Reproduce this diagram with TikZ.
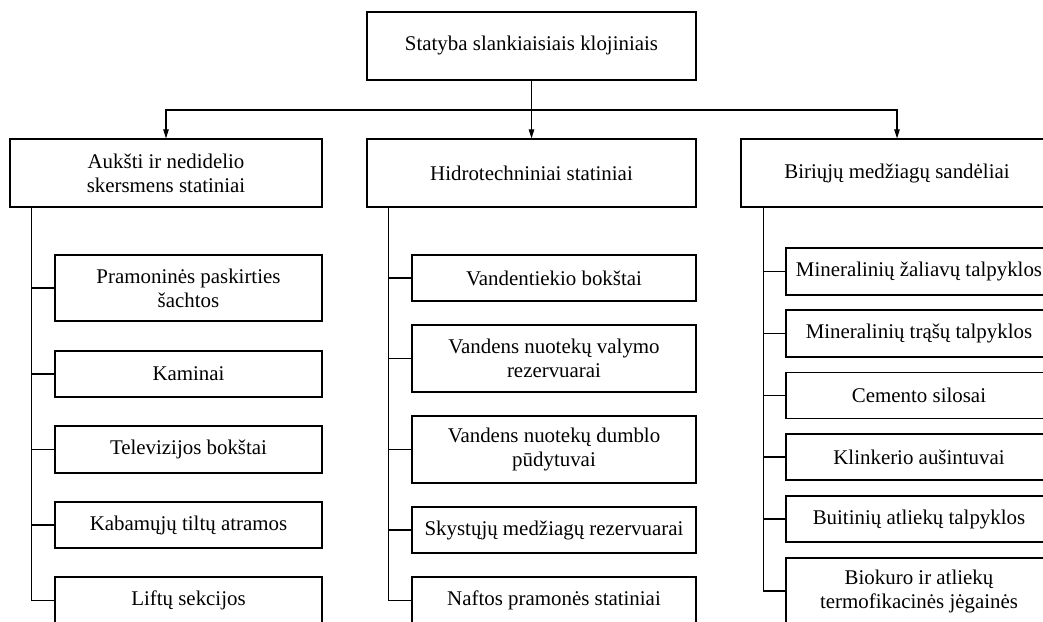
\documentclass[tikz,border=0pt]{standalone}
\usepackage{fontspec}
\setmainfont{Liberation Serif}
\usetikzlibrary{arrows.meta}
\begin{document}
\begin{tikzpicture}[x=1pt,y=-1pt,
  box/.style={draw,line width=1.2pt,inner sep=0pt,align=center,font=\fontsize{20.9}{24}\selectfont},
  arr/.style={line width=1.1pt,-{Triangle[length=9pt,width=5.5pt]}},
  link/.style={line width=1.1pt}]
\useasboundingbox (0,0) rectangle (1043,621);
\clip (0,0) rectangle (1043,621);
\node[box,minimum width=329pt,minimum height=68pt] (top) at (531.5,46) {Statyba slankiaisiais klojiniais};
\node[box,minimum width=312pt,minimum height=68pt] (a) at (166,173) {Aukšti ir nedidelio\\skersmens statiniai};
\node[box,minimum width=329pt,minimum height=68pt] (b) at (531.5,173) {Hidrotechniniai statiniai};
\node[box,minimum width=312pt,minimum height=68pt] (c) at (897,173) {Biriųjų medžiagų sandėliai};
\coordinate (j) at (531.5,110);
\draw[arr] (top.south) -- (b.north);
\draw[arr] (j) -| (a.north);
\draw[arr] (j) -| (c.north);
% column 1
\begin{scope}[every node/.style={box,minimum width=267pt}]
\node[minimum height=66pt] (a1) at (188.5,288) {Pramoninės paskirties\\šachtos};
\node[minimum height=46pt] (a2) at (188.5,374) {Kaminai};
\node[minimum height=47pt] (a3) at (188.5,449.5) {Televizijos bokštai};
\node[minimum height=46pt] (a4) at (188.5,525) {Kabamųjų tiltų atramos};
\node[minimum height=47pt] (a5) at (188.5,600.5) {Liftų sekcijos};
\end{scope}
% column 2
\begin{scope}[every node/.style={box,minimum width=284pt}]
\node[minimum height=46pt] (b1) at (554,278) {Vandentiekio bokštai};
\node[minimum height=67pt] (b2) at (554,358.5) {Vandens nuotekų valymo\\rezervuarai};
\node[minimum height=67pt] (b3) at (554,449.5) {Vandens nuotekų dumblo\\pūdytuvai};
\node[minimum height=46pt] (b4) at (554,530) {Skystųjų medžiagų rezervuarai};
\node[minimum height=47pt] (b5) at (554,600.5) {Naftos pramonės statiniai};
\end{scope}
% column 3
\begin{scope}[every node/.style={box,minimum width=266pt}]
\node[minimum height=47pt] (c1) at (919,271.5) {Mineralinių žaliavų talpyklos};
\node[minimum height=47pt] (c2) at (919,333.5) {Mineralinių trąšų talpyklos};
\node[minimum height=46pt] (c3) at (919,395.5) {Cemento silosai};
\node[minimum height=46pt] (c4) at (919,457) {Klinkerio aušintuvai};
\node[minimum height=46pt] (c5) at (919,519) {Buitinių atliekų talpyklos};
\node[minimum height=66pt] (c6) at (919,591) {Biokuro ir atliekų\\termofikacinės jėgainės};
\end{scope}
\foreach \i in {1,...,5} {\draw[link] ([xshift=22.5pt]a.south west) |- (a\i.west);}
\foreach \i in {1,...,5} {\draw[link] ([xshift=22.5pt]b.south west) |- (b\i.west);}
\foreach \i in {1,...,6} {\draw[link] ([xshift=23pt]c.south west) |- (c\i.west);}
\end{tikzpicture}
\end{document}
